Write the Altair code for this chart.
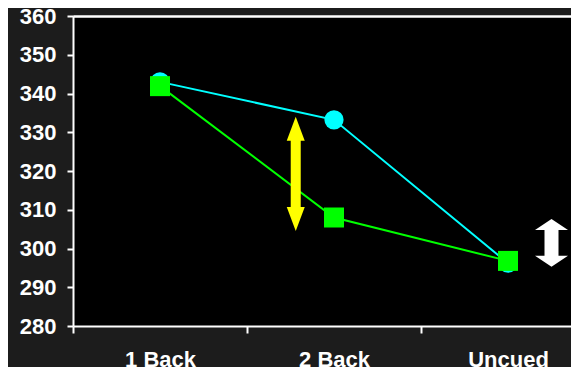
import altair as alt
import pandas as pd

# ---- data ----
conditions = ["1 Back", "2 Back", "Uncued"]
cyan_values = [343.0, 333.2, 296.2]
green_values = [341.9, 308.0, 296.8]
y_ticks = [280, 290, 300, 310, 320, 330, 340, 350, 360]

# arrows: horizontal position in category units (0..3), tip values
yellow_arrow_x = [1.28]
yellow_arrow_top = [334.0]
yellow_arrow_bottom = [304.5]
white_arrow_x = [2.75]
white_arrow_top = [307.6]
white_arrow_bottom = [295.3]

cyan_df = pd.DataFrame({"cond": conditions, "value": cyan_values})
green_df = pd.DataFrame({"cond": conditions, "value": green_values})
yellow_df = pd.DataFrame({"pos": yellow_arrow_x, "top": yellow_arrow_top, "bottom": yellow_arrow_bottom})
white_df = pd.DataFrame({"pos": white_arrow_x, "top": white_arrow_top, "bottom": white_arrow_bottom})

FONT = "Liberation Sans"
PLOT_W = 498        # visible part of the plot (page is 579 wide with 8px margins)
FULL_W = 522        # three categories of 174 px; the last one runs past the page

x_enc = alt.X(
    "cond:N",
    sort=conditions,
    title=None,
    scale=alt.Scale(type="band", domain=conditions, paddingInner=0, paddingOuter=0, range=[0, FULL_W]),
    axis=alt.Axis(tickBand="extent", labelAngle=0, tickSize=7, labelPadding=16),
)
y_scale = alt.Scale(domain=[280, 360], nice=False, zero=False)
y_axis = alt.Axis(values=y_ticks, tickSize=6, labelPadding=11)


def y_of(field):
    return alt.Y(f"{field}:Q", title=None, scale=y_scale, axis=y_axis)


cyan_line = alt.Chart(cyan_df).mark_line(color="#00FFFF", strokeWidth=2).encode(x=x_enc, y=y_of("value"))
cyan_pts = alt.Chart(cyan_df).mark_circle(color="#00FFFF", size=370, opacity=1).encode(x=x_enc, y=y_of("value"))
green_line = alt.Chart(green_df).mark_line(color="#00FF00", strokeWidth=2).encode(x=x_enc, y=y_of("value"))
green_pts = alt.Chart(green_df).mark_square(color="#00FF00", size=400, opacity=1).encode(x=x_enc, y=y_of("value"))

data_layer = alt.layer(cyan_line, cyan_pts, green_line, green_pts)

# continuous x in category units for the arrows; its axis (domain only) is the top border
xq = alt.X(
    "pos:Q",
    title=None,
    scale=alt.Scale(domain=[0, 3], nice=False, zero=False, range=[0, FULL_W]),
    axis=alt.Axis(orient="top", labels=False, ticks=False, domain=True),
)


def arrow(df, color, shaft_width, head_len, head_halfwidth_ratio):
    size = (2 * head_len) ** 2
    r = head_halfwidth_ratio
    up = f"M0,0L{-r},1L{r},1Z"
    down = f"M0,0L{-r},-1L{r},-1Z"
    base = alt.Chart(df)
    shaft = base.mark_rule(
        color=color, strokeWidth=shaft_width, yOffset=head_len - 1, y2Offset=-(head_len - 1)
    ).encode(x=xq, y=y_of("top"), y2="bottom:Q")
    head_up = base.mark_point(
        shape=up, size=size, filled=True, color=color, opacity=1, strokeWidth=0
    ).encode(x=xq, y=y_of("top"))
    head_down = base.mark_point(
        shape=down, size=size, filled=True, color=color, opacity=1, strokeWidth=0
    ).encode(x=xq, y=y_of("bottom"))
    return alt.layer(shaft, head_up, head_down)


yellow = arrow(yellow_df, "#FFFF00", 10, 24, 0.375)
white = arrow(white_df, "#FFFFFF", 14, 11, 1.5)

chart = (
    alt.layer(data_layer, yellow, white)
    .resolve_scale(x="independent")
    .properties(
        width=PLOT_W,
        height=310,
        autosize=alt.AutoSizeParams(type="none"),
        padding={"left": 65, "top": 8, "right": 0, "bottom": 41},
        background="#1c1c1c",
    )
    .configure_view(fill="#000000", stroke=None, strokeWidth=0)
    .configure_axis(
        domainColor="#FFFFFF",
        domainWidth=2,
        tickColor="#FFFFFF",
        tickWidth=2,
        labelColor="#FFFFFF",
        labelFont=FONT,
        labelFontSize=22,
        labelFontWeight="bold",
        grid=False,
    )
)

chart.save("out.html", embed_options={"renderer": "svg", "actions": False})
